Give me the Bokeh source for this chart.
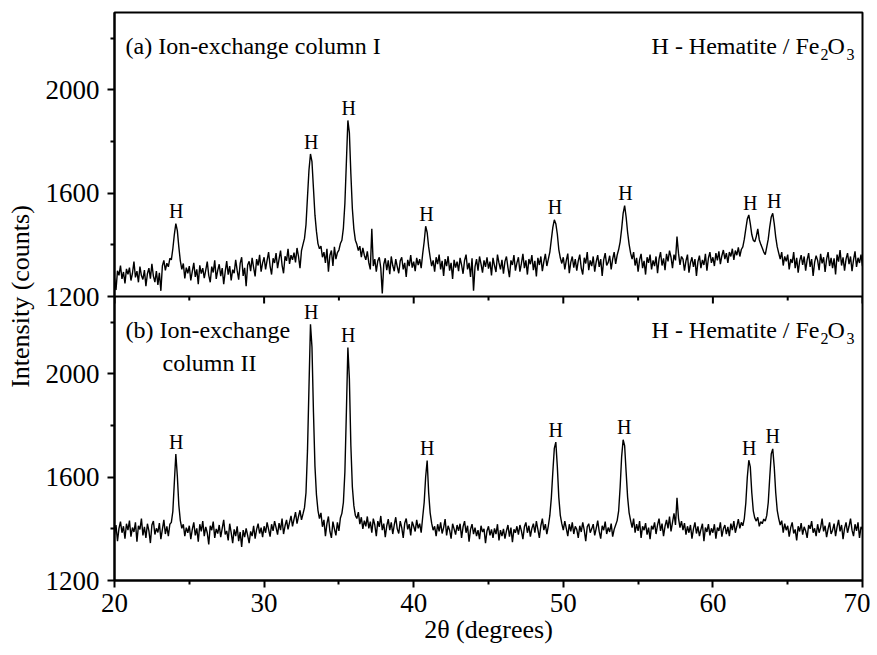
from bokeh.plotting import figure
from bokeh.models import Range1d, FixedTicker, Span, Label, ColumnDataSource
from bokeh.embed import file_html
from bokeh.resources import INLINE
from bokeh.core.properties import value

# ---------------- data ----------------
# scan grid: 20.0 .. 70.0 deg, 0.1 deg step
two_theta = [round(20.0 + 0.1 * i, 1) for i in range(501)]

# (a) Ion-exchange column I  (one row per degree)
intensity_a = [
    1270, 1225, 1300, 1282, 1320, 1268, 1295, 1251, 1307, 1286,
    1312, 1262, 1290, 1335, 1274, 1298, 1255, 1316, 1281, 1266,
    1302, 1240, 1288, 1310, 1269, 1327, 1279, 1256, 1298, 1245,
    1292, 1222, 1318, 1340, 1301, 1329, 1315, 1348, 1342, 1385,
    1440, 1482, 1455, 1392, 1338, 1305, 1328, 1270, 1312, 1290,
    1318, 1262, 1297, 1330, 1276, 1305, 1248, 1321, 1289, 1310,
    1271, 1302, 1335, 1282, 1255, 1316, 1293, 1340, 1268, 1301,
    1325, 1279, 1310, 1248, 1296, 1337, 1285, 1318, 1262, 1304,
    1290, 1342, 1301, 1265, 1328, 1352, 1280, 1311, 1240, 1322,
    1336, 1298, 1350, 1312, 1278, 1345, 1320, 1361, 1296, 1330,
    1352, 1305, 1340, 1372, 1318, 1285, 1348, 1330, 1368, 1310,
    1345, 1378, 1322, 1290, 1356, 1338, 1385, 1326, 1360, 1342,
    1370, 1332, 1388, 1355, 1310, 1378, 1402, 1425, 1478, 1585,
    1690, 1752, 1722, 1618, 1515, 1452, 1405, 1385, 1395, 1352,
    1372, 1330, 1385, 1296, 1360, 1378, 1318, 1392, 1345, 1370,
    1380, 1405, 1418, 1465, 1560, 1720, 1882, 1835, 1675, 1540,
    1462, 1418, 1402, 1378, 1395, 1352, 1388, 1360, 1342, 1375,
    1330, 1305, 1462, 1318, 1345, 1296, 1338, 1352, 1310, 1212,
    1325, 1348, 1302, 1340, 1286, 1355, 1320, 1298, 1345, 1316,
    1290, 1338, 1352, 1305, 1330, 1276, 1342, 1318, 1360, 1312,
    1335, 1298, 1350, 1322, 1345, 1310, 1365, 1412, 1472, 1448,
    1392, 1352, 1318, 1340, 1296, 1352, 1325, 1362, 1305, 1338,
    1280, 1345, 1318, 1356, 1300, 1330, 1268, 1342, 1312, 1335,
    1298, 1350, 1322, 1288, 1340, 1362, 1305, 1330, 1276, 1348,
    1222, 1316, 1345, 1300, 1355, 1326, 1292, 1340, 1315, 1352,
    1308, 1335, 1282, 1350, 1320, 1295, 1362, 1330, 1305, 1342,
    1288, 1336, 1355, 1312, 1275, 1340, 1322, 1360, 1300, 1330,
    1352, 1296, 1328, 1365, 1310, 1340, 1285, 1345, 1325, 1360,
    1302, 1338, 1278, 1350, 1322, 1355, 1298, 1335, 1365, 1318,
    1345, 1372, 1420, 1468, 1497, 1482, 1442, 1382, 1350, 1328,
    1352, 1305, 1340, 1366, 1290, 1332, 1355, 1312, 1345, 1300,
    1338, 1362, 1310, 1285, 1350, 1328, 1372, 1302, 1340, 1318,
    1355, 1296, 1335, 1360, 1315, 1345, 1280, 1342, 1368, 1320,
    1332, 1358, 1305, 1345, 1372, 1326, 1360, 1382, 1412, 1462,
    1522, 1552, 1508, 1448, 1402, 1368, 1345, 1372, 1320, 1350,
    1296, 1342, 1365, 1310, 1338, 1285, 1352, 1330, 1362, 1305,
    1340, 1318, 1355, 1290, 1345, 1372, 1320, 1348, 1302, 1365,
    1336, 1378, 1352, 1310, 1362, 1340, 1432, 1368, 1322, 1355,
    1345, 1300, 1338, 1362, 1292, 1330, 1352, 1315, 1345, 1280,
    1335, 1358, 1310, 1342, 1322, 1365, 1300, 1348, 1372, 1330,
    1352, 1318, 1368, 1340, 1375, 1325, 1358, 1380, 1345, 1368,
    1330, 1372, 1355, 1385, 1342, 1378, 1360, 1390, 1355, 1382,
    1392, 1422, 1462, 1500, 1516, 1482, 1440, 1418, 1412, 1432,
    1462, 1420, 1402, 1388, 1372, 1362, 1392, 1422, 1470, 1508,
    1522, 1482, 1430, 1392, 1368, 1345, 1372, 1320, 1355, 1336,
    1362, 1305, 1345, 1330, 1372, 1310, 1350, 1292, 1338, 1360,
    1322, 1355, 1300, 1342, 1368, 1315, 1345, 1280, 1332, 1358,
    1340, 1302, 1365, 1328, 1352, 1295, 1345, 1372, 1318, 1350,
    1310, 1348, 1285, 1362, 1335, 1380, 1320, 1352, 1300, 1345,
    1368, 1325, 1355, 1298, 1342, 1375, 1315, 1350, 1330, 1362,
    1318,
]

# (b) Ion-exchange column II  (one row per degree)
intensity_b = [
    1378, 1415, 1352, 1402, 1428, 1385, 1410, 1362, 1420, 1395,
    1432, 1370, 1405, 1388, 1425, 1350, 1412, 1398, 1440, 1375,
    1408, 1365, 1420, 1392, 1345, 1415, 1430, 1378, 1402, 1386,
    1422, 1360, 1398, 1435, 1380, 1410, 1372, 1418, 1425, 1468,
    1580, 1690, 1605, 1492, 1432, 1402, 1418, 1372, 1405, 1385,
    1412, 1360, 1398, 1425, 1375, 1402, 1350, 1418, 1390, 1430,
    1372, 1408, 1385, 1340, 1412, 1395, 1428, 1365, 1400, 1382,
    1415, 1368, 1402, 1435, 1378, 1392, 1355, 1420, 1385, 1345,
    1398, 1372, 1410, 1352, 1388, 1330, 1395, 1368, 1402, 1375,
    1345, 1390, 1372, 1412, 1362, 1398, 1420, 1382, 1405, 1368,
    1410, 1385, 1425, 1398, 1370, 1418, 1392, 1430, 1405, 1378,
    1422, 1395, 1440, 1380, 1412, 1435, 1398, 1425, 1450, 1410,
    1438, 1465, 1420, 1448, 1472, 1435, 1458, 1482, 1540, 1702,
    1950, 2192, 2105, 1852, 1642, 1532, 1472, 1440, 1462, 1408,
    1435, 1372, 1420, 1448, 1390, 1365, 1428, 1400, 1375, 1425,
    1392, 1442, 1460, 1502, 1620, 1852, 2102, 1982, 1722, 1562,
    1490, 1452, 1440, 1465, 1418, 1445, 1400, 1432, 1410, 1448,
    1402, 1428, 1385, 1440, 1415, 1372, 1430, 1408, 1450, 1395,
    1420, 1368, 1412, 1438, 1395, 1425, 1380, 1415, 1445, 1400,
    1382, 1430, 1405, 1365, 1422, 1440, 1398, 1418, 1375, 1428,
    1410, 1390, 1435, 1402, 1420, 1385, 1445, 1502, 1602, 1665,
    1540, 1462, 1422, 1395, 1410, 1372, 1418, 1390, 1425, 1382,
    1405, 1438, 1375, 1412, 1395, 1362, 1420, 1400, 1378, 1415,
    1392, 1420, 1365, 1408, 1430, 1385, 1412, 1350, 1398, 1418,
    1380, 1405, 1372, 1395, 1360, 1412, 1388, 1400, 1345, 1392,
    1410, 1375, 1398, 1365, 1402, 1380, 1418, 1355, 1395, 1372,
    1400, 1362, 1392, 1415, 1370, 1405, 1348, 1398, 1385, 1410,
    1378, 1415, 1392, 1360, 1408, 1425, 1385, 1412, 1370, 1402,
    1420, 1385, 1430, 1398, 1365, 1412, 1440, 1395, 1418, 1380,
    1412, 1452, 1520, 1620, 1712, 1736, 1642, 1522, 1452, 1420,
    1395, 1430, 1402, 1372, 1418, 1390, 1425, 1380, 1410, 1398,
    1365, 1412, 1388, 1425, 1395, 1352, 1408, 1420, 1385, 1400,
    1418, 1375, 1402, 1432, 1390, 1362, 1412, 1395, 1428, 1380,
    1405, 1388, 1420, 1370, 1398, 1415, 1432, 1470, 1562, 1680,
    1745, 1722, 1620, 1522, 1462, 1432, 1405, 1440, 1385, 1418,
    1392, 1430, 1365, 1410, 1395, 1422, 1378, 1405, 1360, 1412,
    1398, 1425, 1380, 1415, 1440, 1392, 1420, 1372, 1410, 1435,
    1402, 1448, 1390, 1425, 1460, 1415, 1520, 1442, 1405, 1430,
    1395, 1422, 1378, 1410, 1385, 1415, 1362, 1400, 1425, 1382,
    1410, 1372, 1398, 1420, 1352, 1405, 1388, 1418, 1375, 1402,
    1385, 1418, 1362, 1405, 1392, 1425, 1370, 1400, 1415, 1380,
    1408, 1372, 1420, 1395, 1430, 1385, 1410, 1438, 1402, 1425,
    1412, 1440, 1500, 1600, 1666, 1640, 1540, 1470, 1442, 1430,
    1445, 1410, 1428, 1420, 1438, 1430, 1452, 1502, 1600, 1690,
    1710, 1640, 1540, 1472, 1440, 1415, 1432, 1385, 1420, 1395,
    1412, 1370, 1405, 1425, 1382, 1398, 1355, 1410, 1390, 1422,
    1378, 1408, 1392, 1365, 1415, 1400, 1430, 1385, 1402, 1372,
    1418, 1385, 1405, 1440, 1390, 1412, 1368, 1400, 1425, 1380,
    1395, 1420, 1372, 1408, 1435, 1390, 1415, 1360, 1402, 1425,
    1385, 1410, 1440, 1395, 1372, 1418, 1392, 1425, 1365, 1408,
    1398,
]

# labelled hematite reflections (2theta, peak intensity)
peaks_a_pos = [24.12, 33.15, 35.65, 40.85, 49.45, 54.15, 62.5, 64.1]
peaks_a_h = [1482, 1752, 1882, 1472, 1497, 1552, 1516, 1522]
peaks_b_pos = [24.12, 33.15, 35.62, 40.9, 49.5, 54.07, 62.42, 64.0]
peaks_b_h = [1690, 2192, 2102, 1665, 1736, 1745, 1666, 1710]

x_major_ticks = [20, 30, 40, 50, 60, 70]
x_minor_ticks = [25, 35, 45, 55, 65]
y_major_ticks = [1200, 1600, 2000]
y_minor_ticks = [1400, 1800, 2200]

assert len(intensity_a) == len(two_theta) == len(intensity_b)

# ---------------- figure ----------------
FONT = "Liberation Serif"
y_lo, y_hi = 1200, 2300          # each panel spans this intensity range
offset = y_hi - y_lo              # top panel is stacked above the bottom one
FRAME_H = 568

p = figure(width=870, height=654, output_backend="svg", toolbar_location=None,
           x_range=Range1d(20, 70), y_range=Range1d(y_lo, y_hi + offset),
           min_border_left=114, min_border_right=8, min_border_top=12,
           min_border_bottom=654 - 12 - FRAME_H)
p.extra_y_ranges = {"top": Range1d(y_lo - offset, y_hi)}
p.background_fill_color = "white"
p.border_fill_color = "white"
p.xgrid.visible = False
p.ygrid.visible = False
p.outline_line_color = "black"
p.outline_line_width = 2
p.outline_line_alpha = 1

# data lines
p.line(two_theta, intensity_a, y_range_name="top", line_color="black", line_width=1.4)
p.line(two_theta, intensity_b, line_color="black", line_width=1.4)

# separating axis line between the panels, with outward ticks
p.add_layout(Span(location=y_hi, dimension="width", line_color="black", line_width=2))
units_per_px = (2 * offset) / FRAME_H
p.segment(x0=x_major_ticks, x1=x_major_ticks, y0=[y_hi] * len(x_major_ticks),
          y1=[y_hi - 7 * units_per_px] * len(x_major_ticks), line_color="black", line_width=2)
p.segment(x0=x_minor_ticks, x1=x_minor_ticks, y0=[y_hi] * len(x_minor_ticks),
          y1=[y_hi - 4 * units_per_px] * len(x_minor_ticks), line_color="black", line_width=2)

# axes
xa = p.xaxis[0]
xa.ticker = FixedTicker(ticks=x_major_ticks, minor_ticks=x_minor_ticks)
xa.axis_label = "2θ (degrees)"
ya = p.yaxis[0]
ya.ticker = FixedTicker(ticks=y_major_ticks + [t + offset for t in y_major_ticks],
                        minor_ticks=y_minor_ticks + [t + offset for t in y_minor_ticks])
ya.major_label_overrides = {t + offset: str(t) for t in y_major_ticks}
ya.axis_label = "Intensity (counts)"
for ax in (xa, ya):
    ax.axis_line_width = 2
    ax.axis_line_color = "black"
    ax.major_tick_in = 0
    ax.major_tick_out = 7
    ax.minor_tick_in = 0
    ax.minor_tick_out = 4
    ax.major_tick_line_width = 2
    ax.minor_tick_line_width = 2
    ax.major_label_text_font = FONT
    ax.major_label_text_font_size = "27px"
    ax.major_label_text_color = "black"
    ax.axis_label_text_font = FONT
    ax.axis_label_text_font_size = "26px"
    ax.axis_label_text_font_style = "normal"
    ax.axis_label_text_color = "black"
xa.major_label_standoff = 6
xa.axis_label_standoff = 0
ya.major_label_standoff = 8
ya.axis_label_standoff = 8

# peak markers "H"
label_gap = 48
src_a = ColumnDataSource(dict(x=peaks_a_pos, y=[h + label_gap for h in peaks_a_h],
                              t=["H"] * len(peaks_a_pos)))
src_b = ColumnDataSource(dict(x=peaks_b_pos, y=[h + label_gap for h in peaks_b_h],
                              t=["H"] * len(peaks_b_pos)))
for src, rng in ((src_a, "top"), (src_b, "default")):
    p.text(x="x", y="y", text="t", source=src, y_range_name=rng,
           text_font=value(FONT), text_font_size="20px", text_color="black",
           text_align="center", text_baseline="middle")

# panel captions
cap_y = y_hi - 130
def add_label(text, x, y, rng, x_offset=0, align="left", size="24px"):
    p.add_layout(Label(x=x, y=y, text=text, y_range_name=rng, x_offset=x_offset,
                       text_align=align, text_baseline="alphabetic",
                       text_font=FONT, text_font_size=size, text_color="black"))

add_label("(a) Ion-exchange column I", 20, cap_y, "top", x_offset=11)
add_label("(b) Ion-exchange", 20, cap_y, "default", x_offset=11)
add_label("column II", 20, cap_y - 127, "default", x_offset=48)
for rng in ("top", "default"):
    add_label("H - Hematite / Fe", 70, cap_y, rng, x_offset=-43, align="right")
    add_label("2", 70, cap_y - 31, rng, x_offset=-42, size="16px")
    add_label("O", 70, cap_y, rng, x_offset=-35)
    add_label("3", 70, cap_y - 31, rng, x_offset=-16, size="16px")

open("out.html", "w").write(file_html(p, INLINE))
